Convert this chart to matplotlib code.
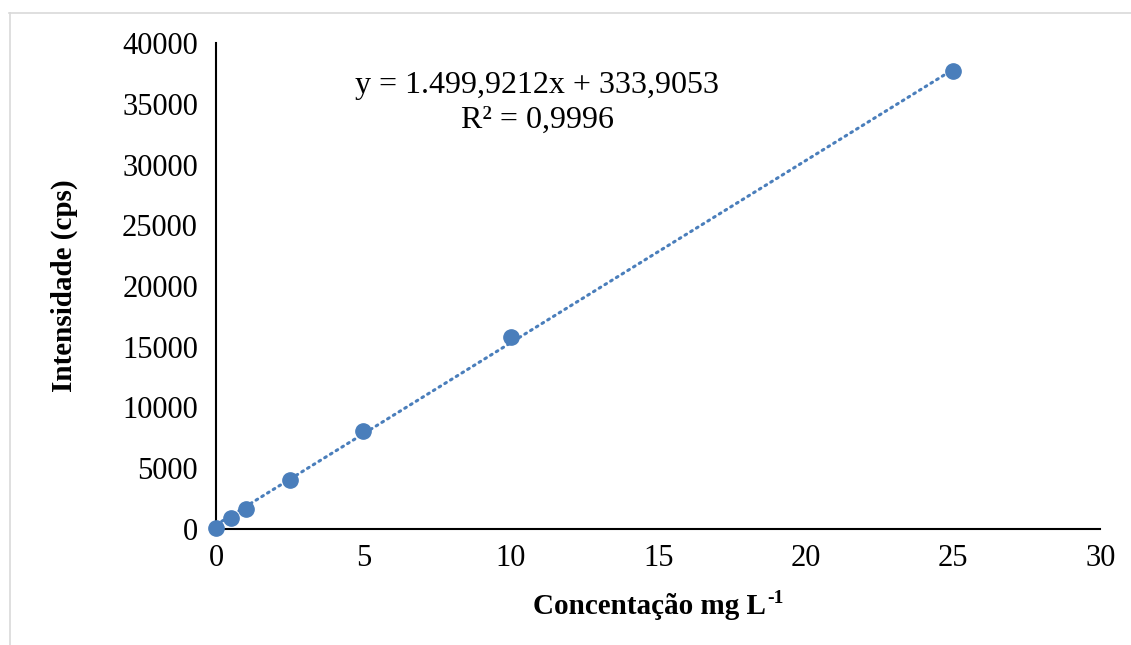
import matplotlib
matplotlib.use("Agg")
import matplotlib.pyplot as plt
import numpy as np

# dados da curva de calibracao
conc = [0, 0.5, 1, 2.5, 5, 10, 25]
intensidade = [60, 900, 1670, 4000, 8050, 15800, 37700]
x_ticks = [0, 5, 10, 15, 20, 25, 30]
y_ticks = [0, 5000, 10000, 15000, 20000, 25000, 30000, 35000, 40000]
slope = 1499.9212
intercept = 333.9053

plt.rcParams['font.family'] = ['Liberation Serif', 'DejaVu Serif']

fig = plt.figure(figsize=(11.31, 6.45), dpi=100)
ax = fig.add_axes([0.191, 0.18, 0.782, 0.753])

# linha de tendencia
xt = np.array([0, 25])
ax.plot(xt, slope * xt + intercept, linestyle=(0, (0.6, 1.6)), color='#4a7ebb',
        linewidth=2.2, dash_capstyle='round', zorder=2)
ax.plot(conc, intensidade, 'o', color='#4a7ebb', markersize=11, zorder=3, clip_on=False)

ax.set_xlim(0, 30)
ax.set_ylim(0, 40000)
ax.set_xticks(x_ticks)
ax.set_yticks(y_ticks)
ax.tick_params(length=0, labelsize=22)
ax.tick_params(axis='y', pad=13)
ax.tick_params(axis='x', pad=11)

for s in ['top', 'right']:
    ax.spines[s].set_visible(False)
for s in ['left', 'bottom']:
    ax.spines[s].set_linewidth(1.5)
    ax.spines[s].set_color('black')

ax.set_ylabel('Intensidade (cps)', fontsize=21, fontweight='bold', labelpad=32)

# rotulo do eixo x com expoente
fig.canvas.draw()
r = fig.canvas.get_renderer()
lab = fig.text(0, 0, 'Concentação mg L', fontsize=21, fontweight='bold', ha='left', va='baseline')
sup = fig.text(0, 0, '-1', fontsize=14, fontweight='bold', ha='left', va='baseline')
w1 = lab.get_window_extent(r).width
w2 = sup.get_window_extent(r).width
x0 = (216 + 1100) / 2 / 1131 - (w1 + w2) / 2 / 1131
base = 1 - 614 / 645
lab.set_position((x0, base))
sup.set_position((x0 + w1 / 1131 + 1 / 1131, base + 11 / 645))

fig.text(0.475, 0.868, 'y = 1.499,9212x + 333,9053', fontsize=23, ha='center', va='center')
fig.text(0.475, 0.813, 'R² = 0,9996', fontsize=23, ha='center', va='center')

# moldura cinza
fig.add_artist(plt.Line2D([9 / 1131, 1], [1 - 12.5 / 645, 1 - 12.5 / 645], color='#d9d9d9', linewidth=1.2))
fig.add_artist(plt.Line2D([9.5 / 1131, 9.5 / 1131], [0, 1 - 12.5 / 645], color='#d9d9d9', linewidth=1.2))

fig.savefig('out.png', dpi=100)
